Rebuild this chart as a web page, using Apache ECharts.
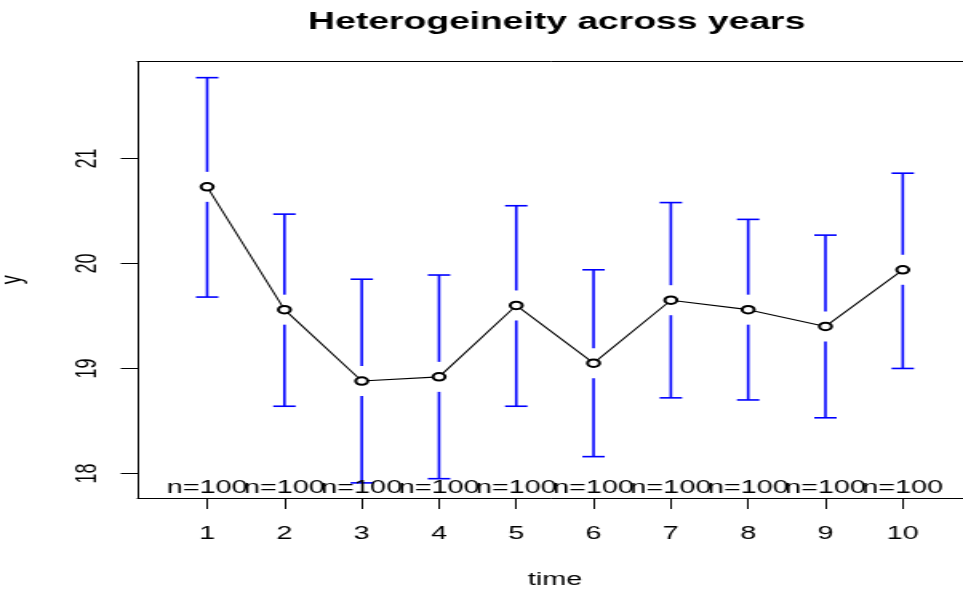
<!DOCTYPE html>
<html>
<head>
<meta charset="utf-8">
<script src="https://cdn.jsdelivr.net/npm/echarts@6/dist/echarts.min.js"></script>
<style>
  html, body { margin: 0; padding: 0; background: #fff; overflow: hidden; }
  #wrap { width: 963px; height: 591px; overflow: hidden; position: relative; }
  /* the plot is laid out on a narrower canvas and widened horizontally */
  #chart { width: 602px; height: 591px; transform: scaleX(1.59967); transform-origin: 0 0; }
</style>
</head>
<body>
<div id="wrap"><div id="chart"></div></div>
<script>
const timePoints = [1, 2, 3, 4, 5, 6, 7, 8, 9, 10];
const meanVals  = [20.73, 19.56, 18.88, 18.92, 19.60, 19.05, 19.65, 19.56, 19.40, 19.94];
const lowerVals = [19.68, 18.64, 17.91, 17.95, 18.64, 18.16, 18.72, 18.70, 18.53, 19.00];
const upperVals = [21.77, 20.47, 19.85, 19.89, 20.55, 19.94, 20.58, 20.42, 20.27, 20.86];
const nLabels   = ['n=100', 'n=100', 'n=100', 'n=100', 'n=100', 'n=100', 'n=100', 'n=100', 'n=100', 'n=100'];
const xTicks = [1, 2, 3, 4, 5, 6, 7, 8, 9, 10];
const yTicks = [18, 19, 20, 21];

// plot region runs slightly past the right edge of the canvas
const X_MIN = 0.1, X_MAX = 10.9;
const Y_MIN = 17.766, Y_MAX = 21.922;
const FONT = 'Liberation Sans, Arial, Helvetica, sans-serif';

const barData = timePoints.map((t, i) => [t, lowerVals[i], upperVals[i], meanVals[i]]);
const meanData = timePoints.map((t, i) => [t, meanVals[i]]);
const countData = timePoints.map((t, i) => [t, Y_MIN, i]);

const chart = echarts.init(document.getElementById('chart'), null, { renderer: 'canvas', width: 602, height: 591 });

chart.setOption({
  animation: false,
  backgroundColor: '#ffffff',
  title: {
    text: 'Heterogeineity across years',
    left: 343,
    top: 6,
    textAlign: 'center',
    textStyle: { fontFamily: FONT, fontWeight: 'bold', fontSize: 23.3, color: '#000' }
  },
  grid: { left: 86, right: -5.8, top: 61.7, bottom: 93, outerBoundsMode: 'none', containLabel: false },
  xAxis: [{
    type: 'value',
    min: X_MIN, max: X_MAX,
    position: 'bottom',
    name: 'time',
    nameLocation: 'middle',
    nameGap: 73,
    nameTextStyle: { fontFamily: FONT, fontSize: 18, color: '#000' },
    axisLine: { show: true, onZero: false, lineStyle: { color: '#000', width: 1 } },
    axisTick: { show: true, length: 11, customValues: xTicks, lineStyle: { color: '#000', width: 1 } },
    axisLabel: { show: true, customValues: xTicks, margin: 27, fontFamily: FONT, fontSize: 18, color: '#000' },
    splitLine: { show: false }
  }, {
    type: 'value',
    min: X_MIN, max: X_MAX,
    position: 'top',
    axisLine: { show: true, onZero: false, lineStyle: { color: '#000', width: 1 } },
    axisTick: { show: false },
    axisLabel: { show: false },
    splitLine: { show: false }
  }],
  yAxis: {
    type: 'value',
    min: Y_MIN, max: Y_MAX,
    name: 'y',
    nameLocation: 'middle',
    nameRotate: 90,
    nameGap: 69,
    nameTextStyle: { fontFamily: FONT, fontSize: 18, color: '#000' },
    axisLine: { show: true, onZero: false, lineStyle: { color: '#000', width: 1 } },
    axisTick: { show: true, length: 10.5, customValues: yTicks, lineStyle: { color: '#000', width: 1 } },
    axisLabel: { show: true, customValues: yTicks, rotate: 90, margin: 22, fontFamily: FONT, fontSize: 18, color: '#000' },
    splitLine: { show: false }
  },
  series: [{
    type: 'custom',
    name: 'interval',
    xAxisIndex: 0,
    data: barData,
    z: 2,
    renderItem: function (params, api) {
      const x = api.value(0);
      const lo = api.coord([x, api.value(1)]);
      const hi = api.coord([x, api.value(2)]);
      const mid = api.coord([x, api.value(3)]);
      const gap = 15, cap = 7;
      const style = { stroke: '#0000ff', lineWidth: 1.6 };
      const kids = [];
      if (mid[1] - gap > hi[1]) {
        kids.push({ type: 'line', shape: { x1: hi[0], y1: hi[1], x2: hi[0], y2: mid[1] - gap }, style: style });
      }
      if (mid[1] + gap < lo[1]) {
        kids.push({ type: 'line', shape: { x1: lo[0], y1: mid[1] + gap, x2: lo[0], y2: lo[1] }, style: style });
      }
      kids.push({ type: 'line', shape: { x1: hi[0] - cap, y1: hi[1], x2: hi[0] + cap, y2: hi[1] }, style: style });
      kids.push({ type: 'line', shape: { x1: lo[0] - cap, y1: lo[1], x2: lo[0] + cap, y2: lo[1] }, style: style });
      return { type: 'group', children: kids };
    }
  }, {
    type: 'line',
    name: 'mean',
    data: meanData,
    z: 3,
    symbol: 'emptyCircle',
    symbolSize: 7.5,
    lineStyle: { color: '#000', width: 1.1 },
    itemStyle: { color: '#000', borderColor: '#000', borderWidth: 1.2 }
  }, {
    type: 'custom',
    name: 'count',
    data: countData,
    z: 4,
    renderItem: function (params, api) {
      const p = api.coord([api.value(0), api.value(1)]);
      return {
        type: 'text',
        x: p[0],
        y: p[1] - 0.5,
        style: {
          text: nLabels[api.value(2)],
          fill: '#000',
          font: '18px ' + FONT,
          textAlign: 'center',
          textVerticalAlign: 'bottom'
        }
      };
    }
  }]
});
</script>
</body>
</html>
